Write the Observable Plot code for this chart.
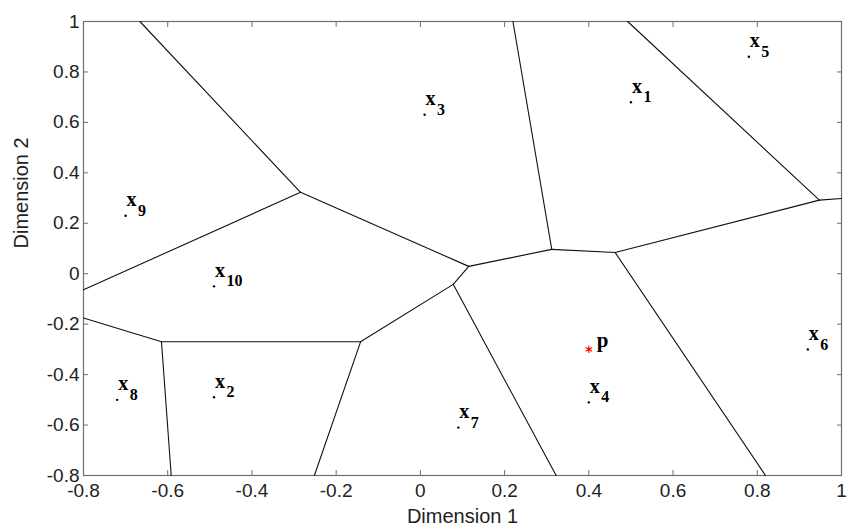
<!DOCTYPE html>
<html>
<head>
<meta charset="utf-8">
<script src="https://cdn.jsdelivr.net/npm/d3@7"></script>
<script src="https://cdn.jsdelivr.net/npm/@observablehq/plot@0.6"></script>
<style>
  html, body { margin: 0; padding: 0; background: white; }
</style>
</head>
<body>
<div id="chart"></div>
<script>
// Generator points x1..x10
const pointNames = ["1", "2", "3", "4", "5", "6", "7", "8", "9", "10"];
const pointX = [0.50, -0.49, 0.01, 0.40, 0.78, 0.92, 0.09, -0.72, -0.70, -0.49];
const pointY = [0.68, -0.49, 0.63, -0.51, 0.86, -0.30, -0.61, -0.50, 0.23, -0.05];

// Query point p
const queryName = ["p"];
const queryX = [0.40];
const queryY = [-0.30];

// Axes
const xDomain = [-0.8, 1];
const yDomain = [-0.8, 1];
const xTicks = [-0.8, -0.6, -0.4, -0.2, 0, 0.2, 0.4, 0.6, 0.8, 1];
const yTicks = [-0.8, -0.6, -0.4, -0.2, 0, 0.2, 0.4, 0.6, 0.8, 1];
const xTitle = "Dimension 1";
const yTitle = "Dimension 2";

const points = pointNames.map((n, i) => ({name: n, x: pointX[i], y: pointY[i]}));
const query = queryName.map((n, i) => ({name: n, x: queryX[i], y: queryY[i]}));
const fmt = d => String(Math.round(d * 10) / 10);

// Voronoi edges computed in data space (the reference's cells are Euclidean in data units)
const voronoi = d3.Delaunay.from(points, d => d.x, d => d.y)
  .voronoi([xDomain[0], yDomain[0], xDomain[1], yDomain[1]]);
const edges = [];
let seg = -1;
voronoi.render({
  moveTo(x, y) { seg++; edges.push({seg, x, y}); },
  lineTo(x, y) { edges.push({seg, x, y}); },
  closePath() {}
});

const serif = "'Liberation Serif', 'Times New Roman', serif";
const axisColor = "#6e6e6e";
const textColor = "#222";

const chart = Plot.plot({
  width: 847,
  height: 531,
  marginLeft: 83,
  marginRight: 6,
  marginTop: 21,
  marginBottom: 56,
  style: {fontFamily: "'Liberation Sans', Arial, Helvetica, sans-serif", fontSize: "20px", background: "white", color: textColor},
  x: {domain: xDomain},
  y: {domain: yDomain},
  marks: [
    Plot.frame({stroke: axisColor, strokeWidth: 1.2}),
    Plot.axisX(xTicks, {anchor: "bottom", tickSize: -5, tickPadding: 12.5, tickFormat: fmt, label: null, stroke: axisColor, fill: textColor, fontSize: 19}),
    Plot.axisX(xTicks, {anchor: "top", tickSize: -5, tickFormat: () => "", label: null, stroke: axisColor}),
    Plot.axisY(yTicks, {anchor: "left", tickSize: -5, tickPadding: 9, tickFormat: fmt, label: null, stroke: axisColor, fill: textColor, fontSize: 19}),
    Plot.axisY(yTicks, {anchor: "right", tickSize: -5, tickFormat: () => "", label: null, stroke: axisColor}),
    Plot.line(edges, {x: "x", y: "y", z: "seg", stroke: "#111", strokeWidth: 1.1}),
    Plot.dot(points, {x: "x", y: "y", r: 1.2, fill: "black", stroke: null}),
    Plot.text(points, {x: "x", y: "y", text: () => "x", textAnchor: "start", dx: 1, dy: -16, fontFamily: serif, fontWeight: "bold", fontSize: 20, fill: "black"}),
    Plot.text(points, {x: "x", y: "y", text: "name", textAnchor: "start", dx: 12.5, dy: -5, fontFamily: serif, fontWeight: "bold", fontSize: 16, fill: "black"}),
    Plot.dot(query, {x: "x", y: "y", symbol: "asterisk", r: 3.5, stroke: "red", strokeWidth: 1.2}),
    Plot.text(query, {x: "x", y: "y", text: "name", textAnchor: "start", dx: 8, dy: -9, fontFamily: serif, fontWeight: "bold", fontSize: 21, fill: "black"}),
    Plot.text([xTitle], {frameAnchor: "bottom", text: d => d, dy: 47, fontSize: 20, fill: textColor}),
    Plot.text([yTitle], {frameAnchor: "left", text: d => d, rotate: -90, dx: -62, fontSize: 20, fill: textColor})
  ]
});
document.getElementById("chart").appendChild(chart);
</script>
</body>
</html>
